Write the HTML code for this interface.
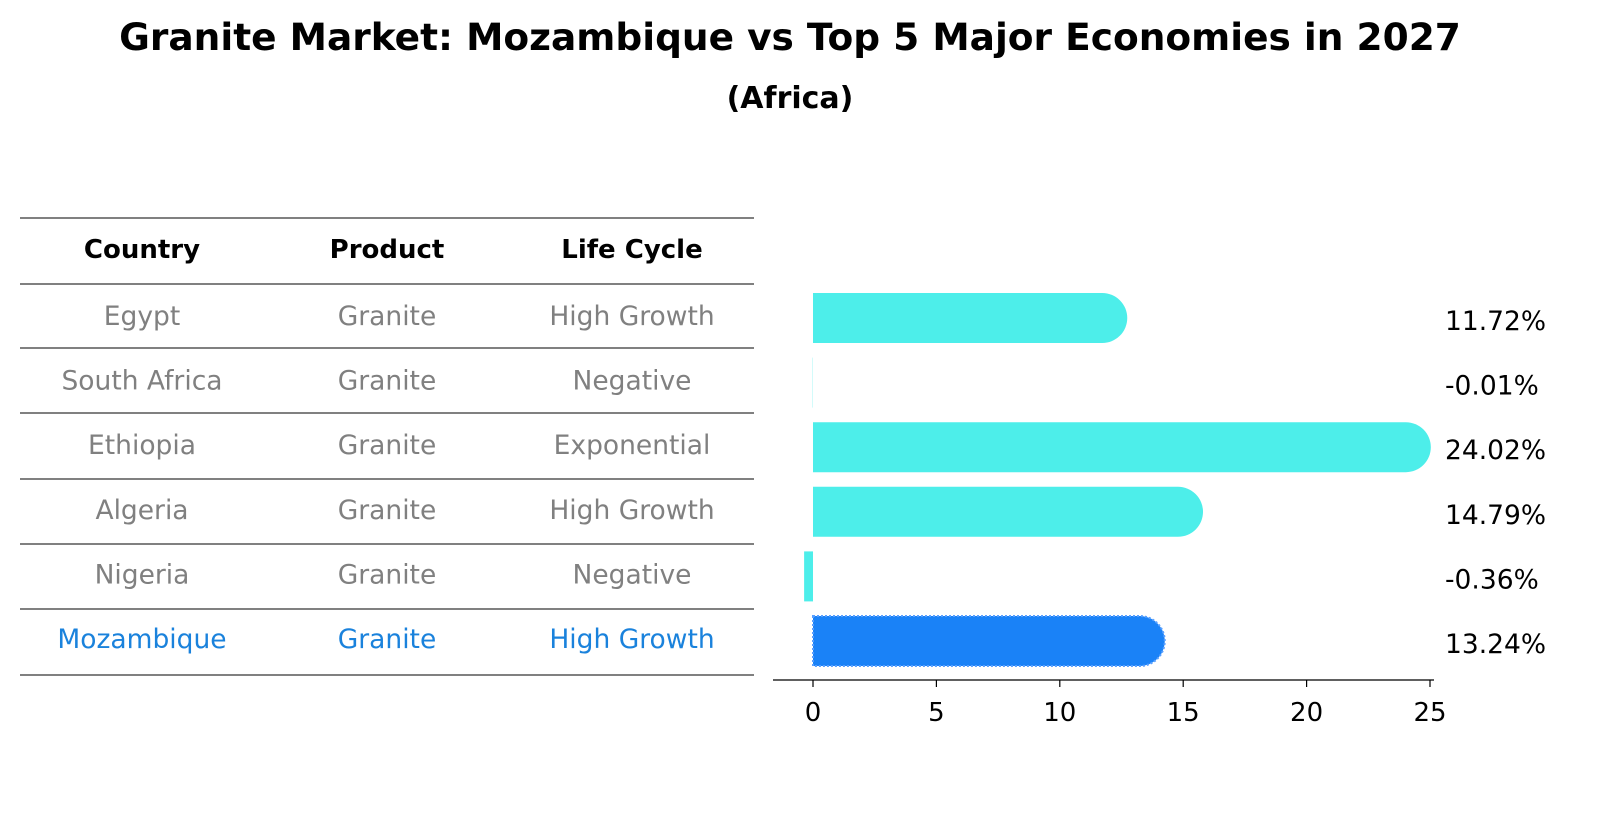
<!DOCTYPE html>
<html><head><meta charset="utf-8"><style>
body{margin:0;background:#fff;font-family:"Liberation Sans","DejaVu Sans",sans-serif;}
svg text{font-family:"DejaVu Sans","Liberation Sans",sans-serif;}
</style></head><body>
<svg id="chart" width="1604" height="823" xmlns="http://www.w3.org/2000/svg">
<text x="790" y="50" text-anchor="middle" font-size="37.5" font-weight="bold">Granite Market: Mozambique vs Top 5 Major Economies in 2027</text>
<text x="790" y="108" text-anchor="middle" font-size="30" font-weight="bold">(Africa)</text>
<g id="table"></g>
<g id="bars"></g>
<g id="axis"></g>
</svg>
<script>
const countries=["Egypt","South Africa","Ethiopia","Algeria","Nigeria","Mozambique"];
const products=["Granite","Granite","Granite","Granite","Granite","Granite"];
const lifeCycles=["High Growth","Negative","Exponential","High Growth","Negative","High Growth"];
const values=[11.72,-0.01,24.02,14.79,-0.36,13.24];
const labels=["11.72%","-0.01%","24.02%","14.79%","-0.36%","13.24%"];
const ticks=[0,5,10,15,20,25];
const NS="http://www.w3.org/2000/svg";
function mk(p,tag,a,txt){const e=document.createElementNS(NS,tag);for(const k in a)e.setAttribute(k,a[k]);if(txt!==undefined)e.textContent=txt;p.appendChild(e);return e;}
const x=v=>813+v*24.68;
const rowY=i=>316+i*64.6;
const tbl=document.getElementById('table');
const lines=[218,284,348,413,479,544,609,675];
lines.forEach((y,i)=>{const l=mk(tbl,'line',{x1:20,x2:754,y1:y,y2:y,stroke:'#000','stroke-width':1});

});
const cols=[142,387,632];
["Country","Product","Life Cycle"].forEach((h,j)=>{const t=mk(tbl,'text',{x:cols[j],y:258,'text-anchor':'middle','font-size':26,'font-weight':'bold'},h);

});
countries.forEach((c,i)=>{const col=i===5?'#1a82dc':'#808080';
[c,products[i],lifeCycles[i]].forEach((s,j)=>{const t=mk(tbl,'text',{x:cols[j],y:rowY(i)+9,'text-anchor':'middle','font-size':26.5,fill:col},s);

});});
const bars=document.getElementById('bars');
const h=50,r=25;
values.forEach((v,i)=>{const cy=rowY(i)+2;const last=i===5;const fill=last?'#1a82f7':'#4deeea';
let e;
if(v>0){const x0=x(0),x1=x(v);
e=mk(bars,'path',{d:`M${x0},${cy-h/2} H${x1} A${r},${r} 0 0 1 ${x1},${cy+h/2} H${x0} Z`,fill:fill,stroke:last?'#5aa0ff':'none','stroke-width':last?2:0,'stroke-dasharray':last?'2,2':''});}
else{e=mk(bars,'rect',{x:x(v),y:cy-h/2,width:x(0)-x(v),height:h,fill:fill});}


const t=mk(bars,'text',{x:1445,y:cy+12,'font-size':26.5},labels[i]);

});
const ax=document.getElementById('axis');
mk(ax,'line',{x1:773,x2:1434,y1:680,y2:680,stroke:'#000','stroke-width':1.2});
ticks.forEach(tv=>{mk(ax,'line',{x1:x(tv),x2:x(tv),y1:680,y2:687,stroke:'#000','stroke-width':1.2});
const t=mk(ax,'text',{x:x(tv),y:721,'text-anchor':'middle','font-size':26},String(tv));

});
</script>
</body></html>
